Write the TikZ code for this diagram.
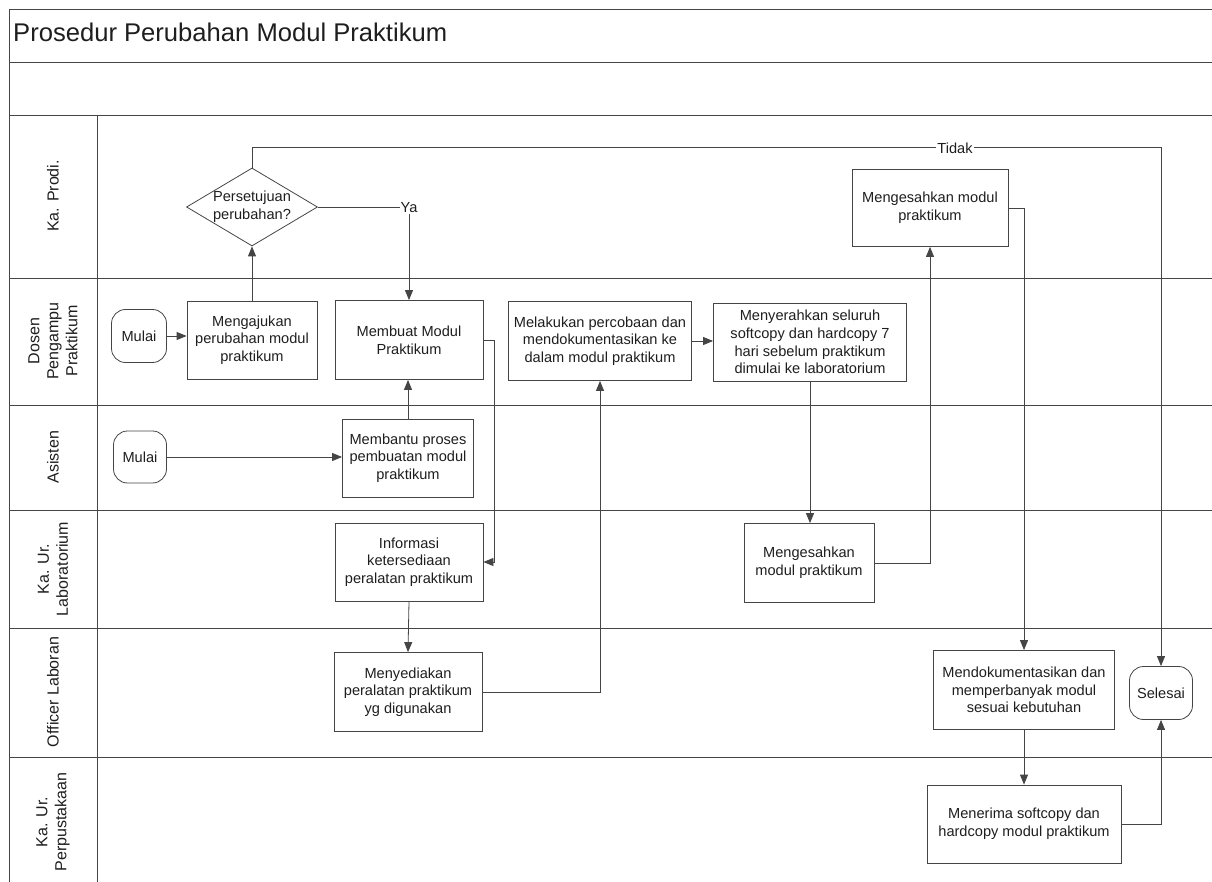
\documentclass[tikz,border=0pt]{standalone}
\usepackage{fontspec}
\setmainfont{Liberation Sans}
\usetikzlibrary{arrows.meta,shapes.geometric}
\definecolor{ln}{HTML}{454545}
\definecolor{tx}{HTML}{1E1E1E}
\begin{document}
\begin{tikzpicture}[x=1pt,y=-1pt,
  lane/.style={draw=ln, line width=0.9pt},
  box/.style={draw=ln, line width=0.8pt, align=center, text=tx, font=\fontsize{14.6}{17.6}\selectfont, inner sep=0pt},
  term/.style={box, rounded corners=14pt},
  dia/.style={draw=ln, line width=0.8pt, diamond, inner sep=0pt},
  arr/.style={draw=ln, line width=0.8pt, -{Triangle[length=10pt,width=8pt]}},
  con/.style={draw=ln, line width=0.8pt},
  lanelbl/.style={rotate=90, align=center, text=tx, font=\fontsize{16}{19}\selectfont, inner sep=0pt},
  lbl/.style={text=tx, font=\fontsize{14.6}{17.6}\selectfont, fill=white, inner sep=1pt}
]
\useasboundingbox (0,0) rectangle (1212,882);
% frame and lanes
\draw[lane] (1212,9) -- (9,9) -- (9,882);
\foreach \yy in {62,115,278,405,510,628,757} \draw[lane] (9,\yy) -- (1212,\yy);
\draw[lane] (97,115) -- (97,882);
\node[anchor=base west, text=tx, font=\fontsize{25.6}{30}\selectfont, inner sep=0pt] (title) at (13,42) {Prosedur Perubahan Modul Praktikum};
% lane labels
\node[lanelbl] (l1) at (53,196) {Ka. Prodi.};
\node[lanelbl] (l2) at (53,341) {Dosen\\Pengampu\\Praktikum};
\node[lanelbl] (l3) at (53,457) {Asisten};
\node[lanelbl] (l4) at (53,569) {Ka. Ur.\\Laboratorium};
\node[lanelbl] (l5) at (53,692) {Officer Laboran};
\node[lanelbl] (l6) at (53,822) {Ka. Ur.\\Perpustakaan};
% nodes
\node[dia, minimum width=131pt, minimum height=78pt] (dia) at (252,207) {};
\node[text=tx, align=center, font=\fontsize{14.6}{17.6}\selectfont, inner sep=0pt] (diat) at (dia.center) {Persetujuan\\perubahan?};
\node[box, minimum width=156pt, minimum height=77pt] (sahprodi) at (930,208) {Mengesahkan modul\\praktikum};
\node[term, minimum width=55pt, minimum height=53pt] (mulai1) at (139,336) {Mulai};
\node[box, minimum width=130pt, minimum height=78pt] (ajukan) at (252,340) {Mengajukan\\perubahan modul\\praktikum};
\node[box, minimum width=148pt, minimum height=79pt] (buat) at (409,340) {Membuat Modul\\Praktikum};
\node[box, minimum width=183pt, minimum height=79pt] (coba) at (600,341) {Melakukan percobaan dan\\mendokumentasikan ke\\dalam modul praktikum};
\node[box, minimum width=193pt, minimum height=78pt] (serah) at (810,342) {Menyerahkan seluruh\\softcopy dan hardcopy 7\\hari sebelum praktikum\\dimulai ke laboratorium};
\node[term, minimum width=53pt, minimum height=52pt] (mulai2) at (140,457) {Mulai};
\node[box, minimum width=131pt, minimum height=78pt] (bantu) at (408,458) {Membantu proses\\pembuatan modul\\praktikum};
\node[box, minimum width=148pt, minimum height=78pt] (info) at (409,562) {Informasi\\ketersediaan\\peralatan praktikum};
\node[box, minimum width=130pt, minimum height=79pt] (sahlab) at (809,563) {Mengesahkan\\modul praktikum};
\node[box, minimum width=148pt, minimum height=79pt] (sedia) at (408,692) {Menyediakan\\peralatan praktikum\\yg digunakan};
\node[box, minimum width=181pt, minimum height=79pt] (dok) at (1024,690) {Mendokumentasikan dan\\memperbanyak modul\\sesuai kebutuhan};
\node[term, minimum width=63pt, minimum height=53pt] (sel) at (1161,693) {Selesai};
\node[box, minimum width=194pt, minimum height=78pt] (terima) at (1024,824) {Menerima softcopy dan\\hardcopy modul praktikum};
% connectors
\draw[arr] (mulai1.east) -- (mulai1.east -| ajukan.west);
\draw[arr] (ajukan.north) -- (dia.south);
\draw[arr] (dia.north) -- ++(0,-20) coordinate (tk) -| (sel.north);
\node[lbl] (tidak) at (955,148) {Tidak};
\draw[arr] (dia.east) -| (buat.north);
\node[lbl] (ya) at (409,208) {Ya};
\draw[arr] (mulai2.east) -- (mulai2.east -| bantu.west);
\draw[arr] (bantu.north) -- (bantu.north |- buat.south);
\draw[arr] (buat.east) -- ++(11,0) coordinate (c1) |- (info.east);
\draw[arr] (info.south) -- (sedia.north);
\draw[arr] (sedia.east) -| (coba.south);
\draw[arr] (coba.east) -- (coba.east -| serah.west);
\draw[arr] (serah.south) -- (serah.south |- sahlab.north);
\draw[arr] (sahlab.east) -| (sahprodi.south);
\draw[arr] (sahprodi.east) -| (dok.north);
\draw[arr] (dok.south) -- (terima.north);
\draw[arr] (terima.east) -| (sel.south);
\end{tikzpicture}
\end{document}
